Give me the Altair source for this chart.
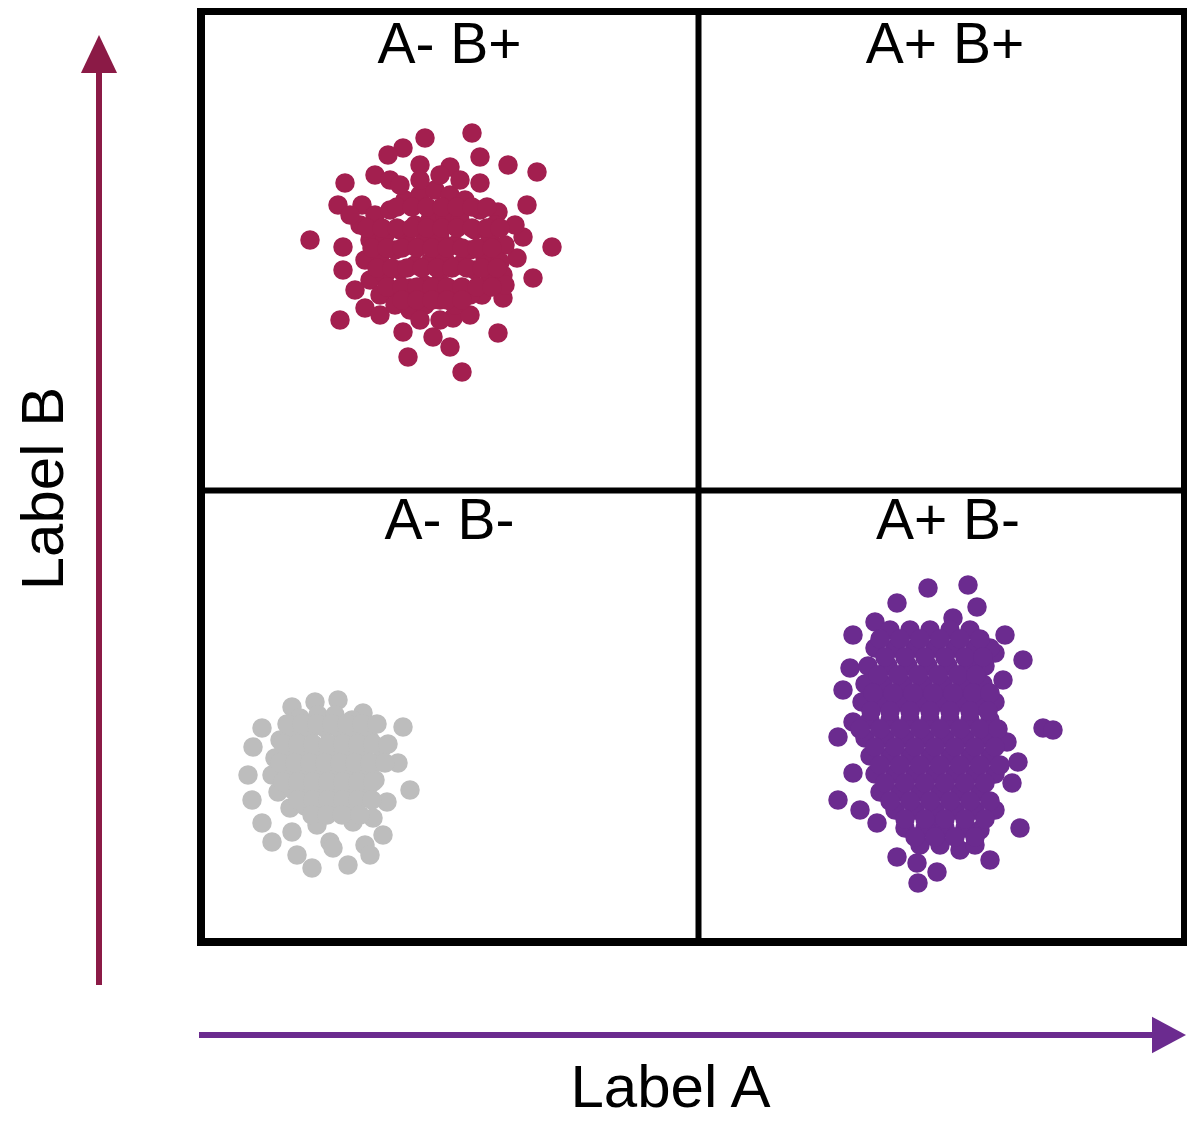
import altair as alt
import pandas as pd

# ---- data (in chart units) ----
red_a = [472,425,403,388,480,508,537,420,450,375,345,480,390,338,362,527,498,310,343,523,552,517,343,533,503,340,365,503,482,498,403,433,450,408,462,380,453,470,
         360,375,390,405,420,435,450,465,480,495,
         370,385,400,415,430,445,460,475,490,505,
         365,380,395,410,425,440,455,470,485,500,
         370,385,400,415,430,445,460,475,490,
         380,395,410,425,440,455,470,
         395,410,425,440,455,
         420,440,400,460,350,515,355,505,420,440,
         397,412,427,442,457,472,487,
         367,382,397,412,427,442,457,472,487,500,
         372,387,402,417,432,447,462,477,492,
         377,392,407,422,437,452,467,482,497,
         387,402,417,432,447,462,477,492,
         402,417,432,447,462]
red_b = [133,138,148,155,157,165,172,165,167,175,183,183,180,205,205,205,212,240,247,237,247,258,270,278,275,320,308,298,295,333,332,337,347,357,372,315,318,315,
         225,215,210,200,195,190,195,200,210,225,
         240,235,230,225,220,215,220,230,240,245,
         260,255,250,245,240,238,245,250,258,262,
         280,275,270,265,262,260,265,270,280,
         295,290,288,285,282,290,295,
         305,310,305,300,305,
         180,175,185,180,215,225,290,285,320,320,
         207,207,207,207,207,207,207,
         228,228,228,228,228,228,228,228,228,228,
         248,248,248,248,248,248,248,248,248,
         268,268,268,268,268,268,268,268,268,
         287,287,287,287,287,287,287,287,
         300,300,300,300,300]

gray_a = [292,315,338,363,262,403,253,383,398,248,410,252,387,262,292,272,383,365,330,297,370,312,348,333,373,353,317,
          280,295,310,325,340,355,370,
          275,290,305,320,335,350,365,378,
          272,287,302,317,332,347,362,375,
          278,293,308,323,338,353,368,
          290,305,320,335,350,
          300,318,335,352,365,
          287,302,317,332,347,362,377,
          283,298,313,328,343,358,373,388,
          280,295,310,325,340,355,370,385,
          283,298,313,328,343,358,373,
          298,313,328,343,358,372,
          312,327,342,360]
gray_b = [707,702,700,713,728,727,747,747,763,775,790,800,802,823,832,842,835,845,842,855,855,868,865,848,818,822,825,
          740,735,730,728,730,735,740,
          758,755,752,750,750,752,758,762,
          775,772,770,768,768,770,775,780,
          792,790,788,786,788,792,796,
          808,806,805,806,810,
          718,715,715,720,728,
          724,724,724,724,724,724,724,
          744,744,744,744,744,744,744,744,
          763,763,763,763,763,763,763,763,
          782,782,782,782,782,782,782,
          800,800,800,800,800,800,
          815,815,815,815]

purple_a = [928,968,897,977,875,853,1005,953,1023,995,850,843,1003,1043,1053,838,853,1007,1018,853,838,860,1012,1020,877,897,917,937,918,990,960,930,980,
            890,910,930,950,970,
            875,895,915,935,955,975,990,
            868,888,908,928,948,968,985,
            865,883,903,923,943,963,983,
            862,880,900,920,940,960,980,995,
            870,890,910,930,950,970,990,
            865,885,905,925,945,965,985,
            870,890,910,930,950,970,990,
            875,895,915,935,955,975,995,
            880,900,920,940,960,980,
            895,915,935,955,975,995,
            905,925,945,965,
            920,940,975,
            880,900,920,940,960,980,
            885,905,925,945,965,983,
            878,898,918,938,958,976,
            873,893,913,933,953,973,990,
            871,890,910,930,950,970,988,
            860,880,900,920,940,960,980,998,
            875,895,915,935,955,975,995,
            880,900,920,940,960,980,1000,
            885,905,925,945,965,985,
            890,910,930,950,970,990,
            905,925,945,965,985,
            915,935,955,975]
purple_b = [588,585,603,607,622,635,635,618,660,653,668,690,680,728,730,737,722,742,762,773,800,810,783,828,823,857,863,872,883,860,850,823,830,
            630,630,630,630,630,
            648,648,648,648,648,648,648,
            666,666,666,666,666,666,666,
            684,684,684,684,684,684,684,
            702,702,702,702,702,702,702,702,
            720,720,720,720,720,720,720,
            738,738,738,738,738,738,738,
            756,756,756,756,756,756,756,
            774,774,774,774,774,774,774,
            792,792,792,792,792,792,
            810,810,810,810,810,810,
            828,828,828,828,
            845,845,845,
            639,639,639,639,639,639,
            657,657,657,657,657,657,
            675,675,675,675,675,675,
            693,693,693,693,693,693,693,
            711,711,711,711,711,711,711,
            729,729,729,729,729,729,729,729,
            747,747,747,747,747,747,747,
            765,765,765,765,765,765,765,
            783,783,783,783,783,783,
            801,801,801,801,801,801,
            819,819,819,819,819,
            837,837,837,837]

groups = ["A- B+", "A- B-", "A+ B-"]
group_colors = ["#a31f4f", "#bdbdbd", "#6b2b8f"]

quad_labels = ["A- B+", "A+ B+", "A- B-", "A+ B-"]
quad_center_a = [449.5, 945, 449.5, 948]
quad_top_b = [11, 11, 490, 490]

# plot frame (chart units)
A_MIN, A_MAX, A_MID = 201, 1185, 698
B_MIN, B_MAX, B_MID = 11, 942, 490

rows = []
for g, xs, ys in zip(groups, [red_a, gray_a, purple_a], [red_b, gray_b, purple_b]):
    for a, b in zip(xs, ys):
        rows.append({"label_a": a, "label_b": b, "group": g})
pts = pd.DataFrame(rows)
quads = pd.DataFrame({"label": quad_labels, "a": quad_center_a, "b": quad_top_b,
                      "row": ["top", "top", "bottom", "bottom"]})

FONT = "Liberation Sans"
xscale = alt.Scale(domain=[A_MIN, A_MAX], nice=False, zero=False)
yscale = alt.Scale(domain=[B_MIN, B_MAX], nice=False, zero=False, reverse=True)

points = alt.Chart(pts).mark_circle(size=380, opacity=1, clip=False).encode(
    x=alt.X("label_a:Q", scale=xscale,
            axis=alt.Axis(values=[A_MID], grid=True, gridColor="black", gridWidth=6, gridOpacity=1,
                          domain=False, ticks=False, labels=False, title="Label A",
                          titleFont=FONT, titleFontSize=60, titleFontWeight="normal", titleColor="black",
                          titleX=469, titleY=164, titleBaseline="alphabetic", titleAlign="center")),
    y=alt.Y("label_b:Q", scale=yscale,
            axis=alt.Axis(values=[B_MID], grid=True, gridColor="black", gridWidth=6, gridOpacity=1,
                          domain=False, ticks=False, labels=False, title="Label B",
                          titleFont=FONT, titleFontSize=60, titleFontWeight="normal", titleColor="black",
                          titleX=-139, titleY=477, titleBaseline="alphabetic", titleAlign="center",
                          titleAngle=270)),
    color=alt.Color("group:N", scale=alt.Scale(domain=groups, range=group_colors), legend=None),
)

text_top = alt.Chart(quads[quads.row == "top"]).mark_text(
    font=FONT, fontSize=57, color="black", baseline="alphabetic", align="center", dy=52, clip=False
).encode(x=alt.X("a:Q", scale=xscale), y=alt.Y("b:Q", scale=yscale), text="label:N")

text_bottom = alt.Chart(quads[quads.row == "bottom"]).mark_text(
    font=FONT, fontSize=57, color="black", baseline="alphabetic", align="center", dy=49, clip=False
).encode(x=alt.X("a:Q", scale=xscale), y=alt.Y("b:Q", scale=yscale), text="label:N")

base = alt.Chart(pd.DataFrame({"k": [0]}))

arrow_b_line = base.mark_rule(color="#8b1a46", strokeWidth=6, clip=False).encode(
    x=alt.datum(99, scale=xscale), y=alt.datum(985, scale=yscale), y2=alt.datum(65))
arrow_b_head = base.mark_point(shape="M0,-1L0.95,1L-0.95,1Z", size=1444, filled=True, opacity=1,
                               color="#8b1a46", clip=False).encode(
    x=alt.datum(99, scale=xscale), y=alt.datum(54, scale=yscale))

arrow_a_line = base.mark_rule(color="#6b2b8f", strokeWidth=6, clip=False).encode(
    x=alt.datum(199, scale=xscale), x2=alt.datum(1160), y=alt.datum(1035, scale=yscale))
arrow_a_head = base.mark_point(shape="M1,0L-1,1.08L-1,-1.08Z", size=1156, filled=True, opacity=1,
                               color="#6b2b8f", clip=False).encode(
    x=alt.datum(1169, scale=xscale), y=alt.datum(1035, scale=yscale))

chart = alt.layer(points, text_top, text_bottom, arrow_b_line, arrow_b_head, arrow_a_line, arrow_a_head).properties(
    width=A_MAX - A_MIN, height=B_MAX - B_MIN,
    autosize=alt.AutoSizeParams(type="none"),
    padding={"left": 193, "top": 3, "right": 2, "bottom": 178},
    background="white",
).configure_view(stroke="black", strokeWidth=8)

chart.save("out.html", embed_options={"renderer": "svg", "actions": False})
